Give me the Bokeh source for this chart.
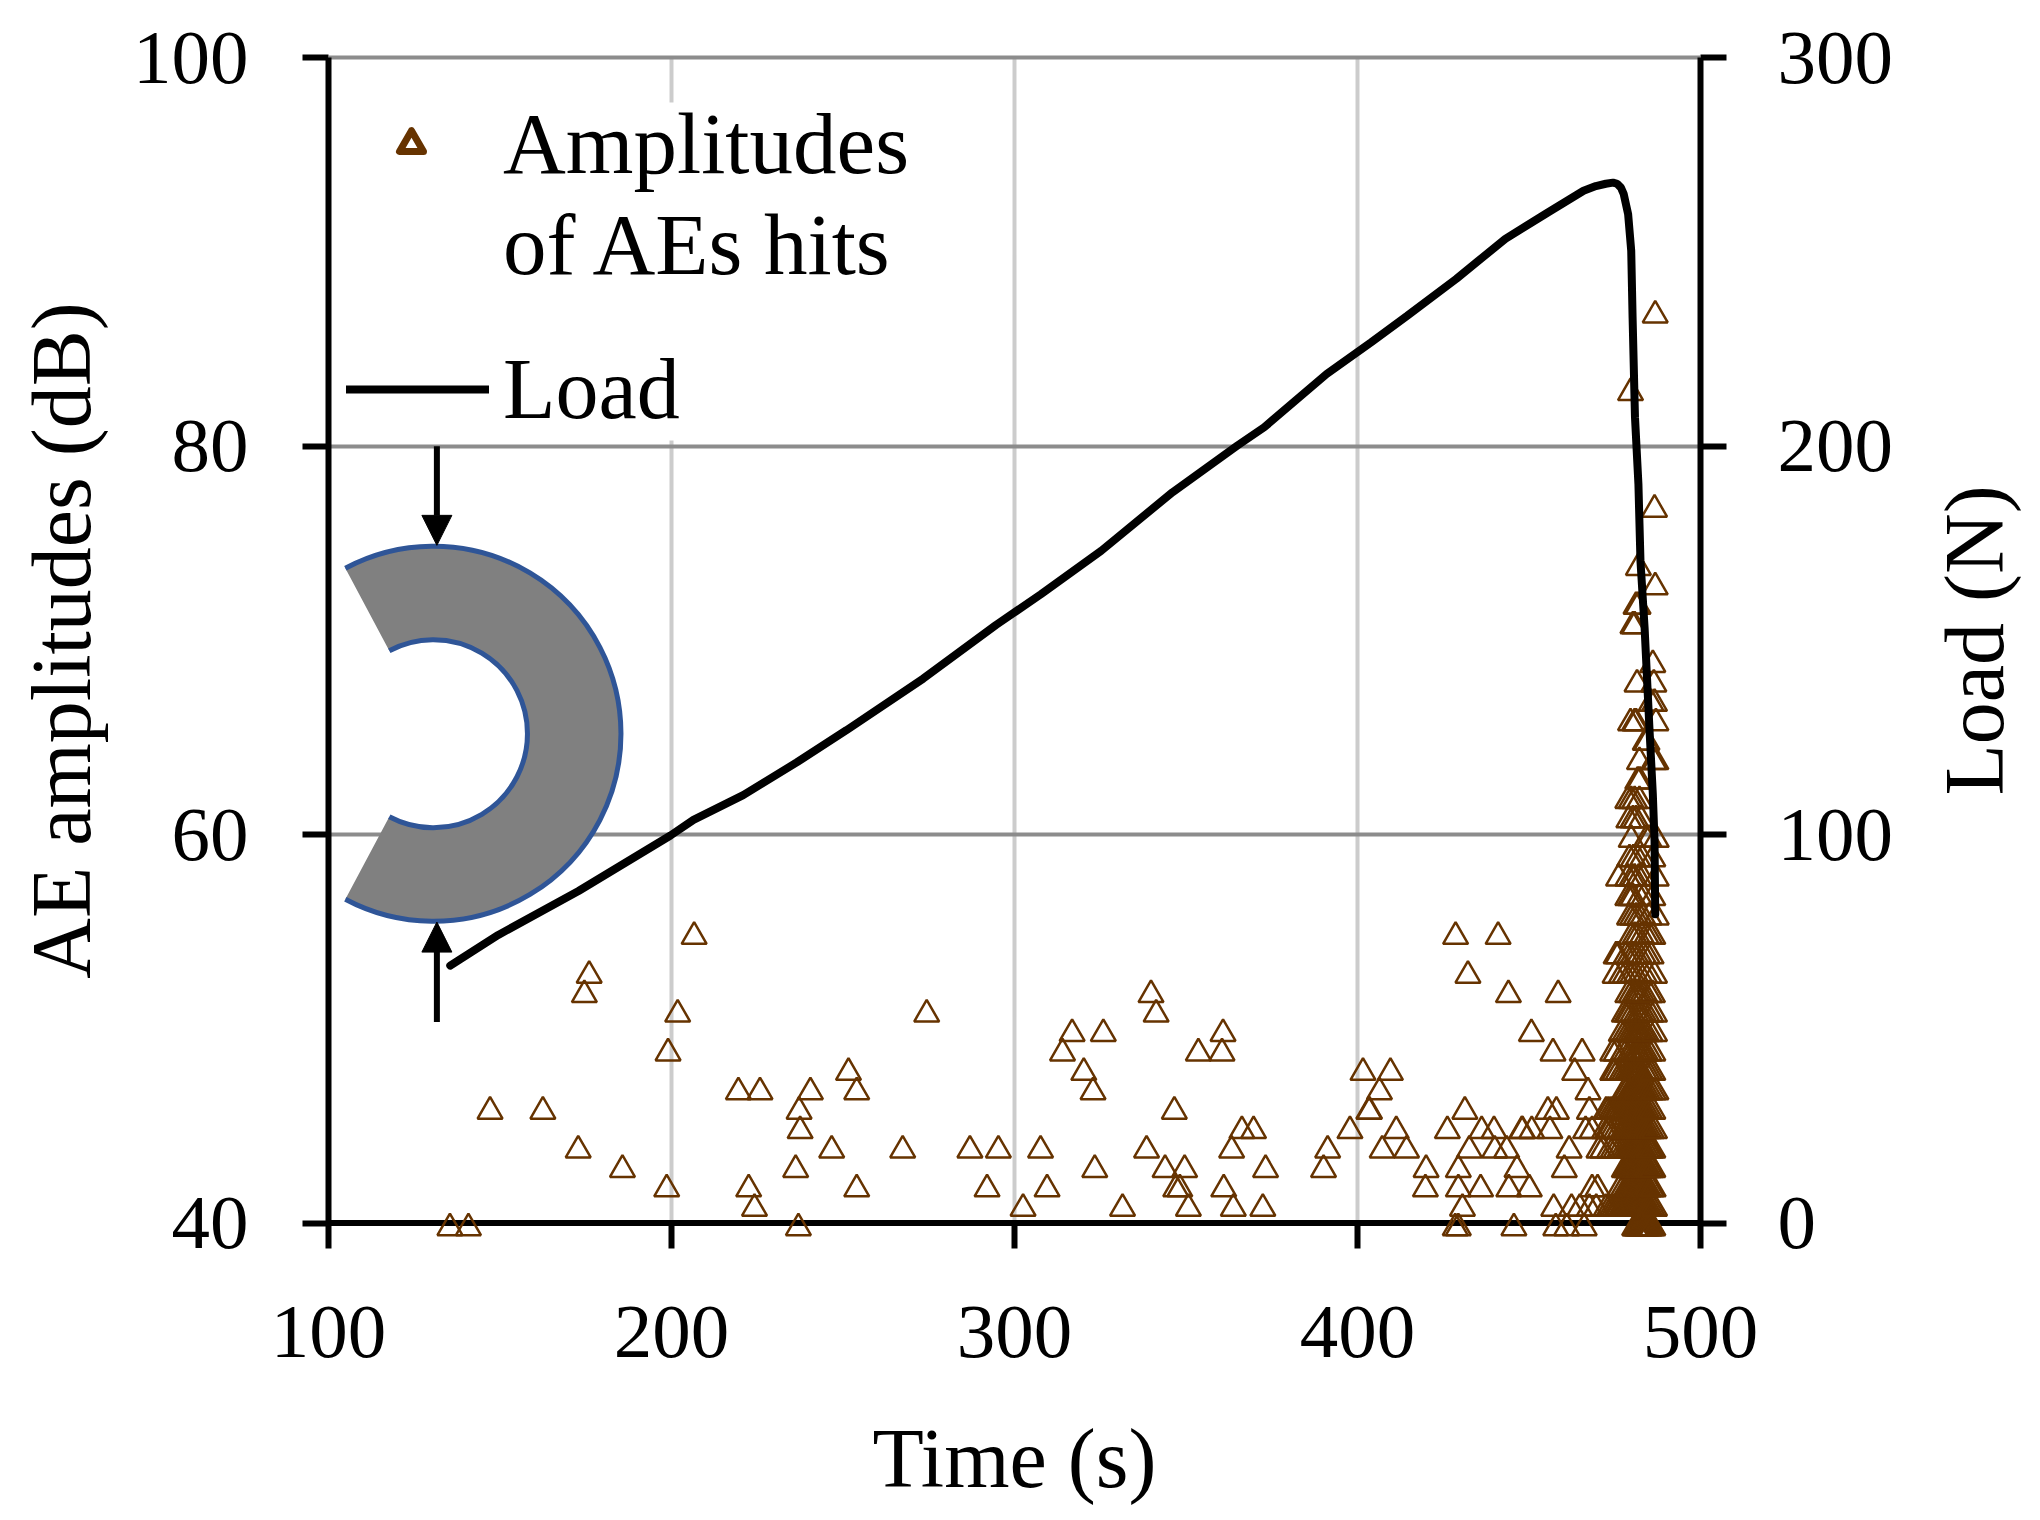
from bokeh.embed import file_html
from bokeh.resources import INLINE
from bokeh.layouts import row
from bokeh.models import (Arrow, NormalHead, Legend, LegendItem, LinearAxis, Range1d,
                          FixedTicker, ColumnDataSource, BoxAnnotation, Span)
from bokeh.plotting import figure

FONT = "Liberation Serif"
BROWN = "#663300"

# load curve
load_time = [135.5, 149.5, 172.9, 199.7, 206.4, 220.9, 236.5, 251.0, 273.4, 294.6, 307.7, 325.3,
             346.1, 365.0, 372.8, 391.0, 404.0, 414.5, 428.8, 435.3, 443.1, 455.5, 465.9, 469.5, 472.4,
             474.5, 475.7, 476.8, 477.6, 478.9, 479.8, 480.2, 480.9, 481.9, 482.5, 483.7, 485.1, 486.1, 486.6, 486.8]
load_n = [66.3, 74.2, 85.5, 99.8, 103.8, 110.2, 118.6, 126.9, 140.2, 154.0, 161.9, 173.1,
          188.2, 200.2, 204.9, 218.6, 226.8, 233.6, 243.1, 247.8, 253.4, 260.2, 265.8, 267.0, 267.6,
          267.9, 267.6, 266.6, 265.0, 259.8, 250.4, 233.2, 207.5, 190.3, 170.5, 153.3, 127.6, 110.4, 98.4, 79.5]

# scattered AE hits, before the final burst
sparse_time = [135.4, 140.8, 147.1, 162.5, 172.8, 176.0, 174.6, 185.7, 198.6, 199.0, 201.8, 206.6,
               219.5, 225.8, 222.5, 224.2, 237.0, 236.2, 237.5, 237.2, 240.5, 246.7, 251.6, 254.0,
               254.0, 267.4, 274.4, 287.0, 292.0, 295.3, 302.5, 307.6, 309.5, 314.0, 316.8, 320.2,
               322.9, 323.4, 325.9, 331.5, 338.5, 339.8, 341.3, 343.9, 346.6, 347.0, 348.2, 349.6,
               350.7, 353.6, 360.5, 360.8, 361.0, 363.3, 363.8, 366.3, 369.7, 372.4, 373.2, 390.1,
               391.3, 397.8, 401.6, 403.3, 403.5, 406.4, 409.6, 407.2, 411.3, 414.3, 419.8, 420.0,
               426.2, 428.6, 428.5, 429.4, 429.4, 429.4, 430.6, 432.2, 431.3, 432.6, 435.9, 436.2,
               439.8, 440.0, 441.0, 443.5, 444.0, 444.1, 445.6, 446.5, 447.9, 448.1, 450.1, 450.7,
               450.8, 455.5, 458.0, 456.1, 457.0, 457.2, 457.8, 458.5, 460.3, 461.0, 461.7, 462.4,
               463.3, 464.8, 465.5, 466.1, 466.5, 467.2, 467.6, 467.6, 468.4, 468.4, 470.0, 470.4]
sparse_db = [40, 40, 46, 46, 44, 53, 52, 43, 42, 49, 51, 55,
             47, 47, 42, 41, 40, 43, 45, 46, 47, 44, 48, 47,
             42, 44, 51, 44, 42, 44, 41, 44, 42, 49, 50, 48,
             47, 43, 50, 41, 44, 52, 51, 43, 46, 42, 42, 43,
             41, 49, 49, 50, 42, 44, 41, 45, 45, 41, 43, 43,
             44, 45, 48, 46, 46, 47, 48, 44, 45, 44, 42, 43,
             45, 55, 40, 40, 42, 43, 41, 53, 46, 44, 42, 45,
             45, 44, 55, 44, 52, 42, 40, 43, 45, 45, 42, 50,
             45, 46, 46, 45, 49, 41, 40, 52, 43, 40, 44, 41,
             48, 41, 49, 40, 45, 47, 46, 41, 45, 42, 42, 44]

# final burst, one list per dB level
burst_40 = [480.8, 481.1, 481.5, 481.8, 482.2, 482.5, 482.9, 483.2, 483.6, 483.9, 484.3, 484.7, 485.1, 485.6, 486.1]
burst_41 = [469.6, 472.5, 473.4, 474.2, 474.9, 475.6, 476.2, 476.9, 477.4, 477.9, 478.4, 478.8, 479.2, 479.6, 480.0,
            480.4, 480.8, 481.2, 481.6, 482.0, 482.4, 482.7, 483.1, 483.5, 483.9, 484.3, 484.6, 485.2, 485.9, 486.6]
burst_42 = [476.4, 477.4, 478.3, 478.8, 479.2, 479.6, 480.0, 480.3, 480.7, 481.1, 481.5, 481.9, 482.2, 482.6, 483.0,
            483.4, 483.8, 484.2, 484.8, 485.6, 486.2]
burst_43 = [477.8, 478.4, 478.9, 479.3, 479.8, 480.2, 480.6, 481.0, 481.3, 481.7, 482.1, 482.5, 482.9, 483.3, 483.7,
            484.2, 484.8, 485.5, 486.1]
burst_44 = [471.5, 473.5, 474.5, 475.4, 476.4, 477.4, 478.2, 478.9, 479.3, 479.8, 480.2, 480.6, 481.0, 481.4, 481.8,
            482.2, 482.6, 483.0, 483.5, 484.2, 484.9, 485.5, 486.1]
burst_45 = [472.0, 472.9, 473.5, 474.4, 475.4, 476.4, 477.4, 478.0, 478.7, 479.3, 479.8, 480.3, 480.7, 481.2, 481.7,
            482.1, 482.6, 483.1, 483.6, 484.2, 484.9, 485.7, 486.6]
burst_46 = [472.5, 473.2, 474.0, 474.7, 475.4, 476.0, 476.7, 477.4, 478.0, 478.7, 479.3, 479.8, 480.3, 480.7, 481.2,
            481.7, 482.2, 482.7, 483.2, 483.7, 484.4, 485.2, 486.1]
burst_47 = [477.8, 478.5, 479.3, 479.8, 480.3, 480.8, 481.2, 481.7, 482.2, 482.7, 483.2, 483.8, 484.5, 485.3, 486.2, 487.0]
burst_48 = [474.4, 475.0, 475.9, 477.0, 477.8, 478.6, 479.3, 479.8, 480.3, 480.8, 481.2, 481.7, 482.2, 482.7, 483.7, 484.5, 485.3, 486.1]
burst_49 = [474.4, 475.4, 477.4, 478.3, 479.3, 480.0, 480.8, 481.5, 482.0, 482.7, 483.3, 484.0, 485.0, 486.1]
burst_50 = [476.9, 477.9, 478.8, 479.6, 480.3, 481.0, 481.6, 482.2, 482.8, 483.5, 484.2, 485.3, 486.6]
burst_51 = [477.8, 478.6, 479.3, 480.2, 481.2, 482.0, 482.7, 483.5, 484.4, 485.5, 486.6]
burst_52 = [478.8, 479.8, 480.8, 481.5, 482.2, 483.0, 483.8, 485.1, 486.0]
burst_53 = [475.1, 476.9, 478.0, 479.3, 480.2, 481.2, 482.4, 483.7, 485.0, 486.6]
burst_54 = [475.4, 476.0, 478.3, 479.3, 480.3, 481.2, 482.2, 483.4, 484.5, 485.6]
burst_55 = [479.8, 480.8, 481.7, 482.9, 484.2, 485.2, 486.1]
burst_56 = [479.3, 480.2, 481.2, 482.2, 483.2, 485.0, 487.1]
burst_57 = [478.8, 479.6, 480.3, 482.2, 483.4, 486.1]
burst_58 = [476.1, 478.8, 480.0, 480.8, 482.0, 483.2, 487.1]
burst_59 = [479.3, 480.4, 481.7, 483.0, 486.1]
burst_60 = [479.8, 484.2, 485.0, 487.1]
burst_61 = [479.1, 480.3, 481.2, 482.7]
burst_62 = [478.8, 479.8, 480.8, 482.2]
burst_63 = [481.7, 482.3]
burst_64 = [482.2, 486.4, 487.0]
burst_65 = [483.9, 484.4]
burst_66 = [479.6, 480.8, 481.2, 487.0]
burst_67 = [485.6, 486.6]
burst_68 = [481.5, 486.4]
burst_69 = [486.1]
burst_71 = [480.3, 480.8]
burst_72 = [481.2, 481.8]
burst_73 = [486.8]
burst_74 = [481.9]
burst_77 = [486.6]
burst_83 = [479.6]
burst_87 = [486.8]

burst_rows = {40: burst_40, 41: burst_41, 42: burst_42, 43: burst_43, 44: burst_44, 45: burst_45,
              46: burst_46, 47: burst_47, 48: burst_48, 49: burst_49, 50: burst_50, 51: burst_51,
              52: burst_52, 53: burst_53, 54: burst_54, 55: burst_55, 56: burst_56, 57: burst_57,
              58: burst_58, 59: burst_59, 60: burst_60, 61: burst_61, 62: burst_62, 63: burst_63,
              64: burst_64, 65: burst_65, 66: burst_66, 67: burst_67, 68: burst_68, 69: burst_69,
              71: burst_71, 72: burst_72, 73: burst_73, 74: burst_74, 77: burst_77, 83: burst_83,
              87: burst_87}

hit_time = list(sparse_time)
hit_db = list(sparse_db)
for db, times in burst_rows.items():
    hit_time += times
    hit_db += [db] * len(times)

# the ranges run 1 dB past the axes so that triangles on the 40 dB line are not cut by the frame
p = figure(width=1920, height=1520, x_range=(100, 500), y_range=(39, 101),
           output_backend="svg", toolbar_location=None,
           min_border_left=328, min_border_right=220, min_border_top=38, min_border_bottom=278,
           x_axis_label="Time (s)", y_axis_label="AE amplitudes (dB)")
p.outline_line_color = None

p.extra_y_ranges = {"load": Range1d(-5, 305), "hits": Range1d(39.25, 101.25)}
p.add_layout(LinearAxis(y_range_name="load"), "right")

p.xaxis.ticker = FixedTicker(ticks=[100, 200, 300, 400, 500])
p.yaxis[0].ticker = FixedTicker(ticks=[40, 60, 80, 100])
p.yaxis[0].bounds = (40, 100)
p.yaxis[1].ticker = FixedTicker(ticks=[0, 100, 200, 300])
p.yaxis[1].bounds = (0, 300)

for ax in [p.xaxis[0], p.yaxis[0], p.yaxis[1]]:
    ax.axis_line_width = 6
    ax.axis_line_color = "#000000"
    ax.major_tick_line_width = 6
    ax.major_tick_line_color = "#000000"
    ax.major_tick_in = 0
    ax.major_tick_out = 26
    ax.minor_tick_line_color = None
    ax.major_label_text_font = FONT
    ax.major_label_text_font_size = "77px"
    ax.major_label_text_color = "#000000"
    ax.axis_label_text_font = FONT
    ax.axis_label_text_font_size = "84px"
    ax.axis_label_text_font_style = "normal"
    ax.axis_label_text_color = "#000000"
p.yaxis[0].major_label_standoff = 54
p.yaxis[0].axis_label_standoff = 22
p.yaxis[1].major_label_standoff = 51

# x axis sits at the frame bottom, its ticks pulled up to the 40 dB line drawn by the span
p.xaxis.axis_line_color = None
p.xaxis.major_tick_in = 20
p.xaxis.major_tick_out = 6
p.xaxis.major_label_standoff = 58
p.xaxis.axis_label_standoff = 52
p.add_layout(Span(location=40, dimension="width", line_color="#000000", line_width=6, level="underlay"))

p.xgrid.grid_line_color = "#cccccc"
p.xgrid.grid_line_width = 4
p.xgrid.cross_bounds = (40, 100)
p.ygrid.grid_line_color = "#8c8c8c"
p.ygrid.grid_line_width = 4
p.ygrid.cross_bounds = (100, 500)

# white patch behind the legend hides the gridlines there
p.add_layout(BoxAnnotation(left=105.3, right=281.5, top=97.7, bottom=80.3,
                           fill_color="#ffffff", fill_alpha=1, line_color=None))

# specimen sketch
p.annular_wedge(x=[130.6], y=[65.2], inner_radius=94, outer_radius=187.5,
                inner_radius_units="screen", outer_radius_units="screen",
                start_angle=-2.06, end_angle=2.06, fill_color="#808080", line_color=None)
p.arc(x=[130.6, 130.6], y=[65.2, 65.2], radius=[94, 187.5], radius_units="screen",
      start_angle=-2.06, end_angle=2.06, line_color="#2f5597", line_width=5)
p.add_layout(Arrow(end=NormalHead(size=30, fill_color="#000000", line_color="#000000"),
                   x_start=131.6, y_start=80, x_end=131.6, y_end=74.9,
                   line_width=6, line_color="#000000"))
p.add_layout(Arrow(end=NormalHead(size=30, fill_color="#000000", line_color="#000000"),
                   x_start=131.6, y_start=50.35, x_end=131.6, y_end=55.5,
                   line_width=6, line_color="#000000"))

source = ColumnDataSource(dict(t=hit_time, db=hit_db))
p.scatter("t", "db", source=source, y_range_name="hits", marker="triangle", size=25,
          fill_color=None, line_color=BROWN, line_width=2.5)
p.line(load_time, load_n, y_range_name="load", line_color="#000000", line_width=8, line_cap="round")

nan = float("nan")
key_hits = p.scatter([nan], [nan], marker="triangle", size=22, fill_color="#ffffff",
                     line_color=BROWN, line_width=7, line_join="round")
key_load = p.line([nan, nan], [nan, nan], line_color="#000000", line_width=8, line_cap="round")

legend_hits = Legend(items=[LegendItem(label="Amplitudes", renderers=[key_hits]),
                            LegendItem(label="of AEs hits", renderers=[])],
                     location=(18, 947), margin=0, padding=0, spacing=0,
                     glyph_width=130, glyph_height=60, label_standoff=27,
                     label_text_font=FONT, label_text_font_size="87px", label_text_color="#000000",
                     background_fill_alpha=0, border_line_color=None)
legend_load = Legend(items=[LegendItem(label="Load", renderers=[key_load])],
                     location=(18, 803), margin=0, padding=0,
                     glyph_width=143, glyph_height=60, label_standoff=14,
                     label_text_font=FONT, label_text_font_size="86px", label_text_color="#000000",
                     background_fill_alpha=0, border_line_color=None)
p.add_layout(legend_hits)
p.add_layout(legend_load)

# narrow strip beside the plot: its left axis carries the title of the right axis, reading upwards
strip = figure(width=110, height=1520, x_range=(0, 1), y_range=(39, 101), x_axis_location=None,
               output_backend="svg", toolbar_location=None,
               min_border_left=100, min_border_right=2, min_border_top=38, min_border_bottom=278,
               y_axis_label="Load (N)")
strip.outline_line_color = None
strip.grid.visible = False
strip.yaxis.ticker = FixedTicker(ticks=[70])
strip.yaxis.axis_line_color = None
strip.yaxis.major_tick_line_color = None
strip.yaxis.minor_tick_line_color = None
strip.yaxis.major_tick_in = 0
strip.yaxis.major_tick_out = 0
strip.yaxis.major_label_text_color = None
strip.yaxis.major_label_text_font_size = "1px"
strip.yaxis.major_label_standoff = 0
strip.yaxis.axis_label_standoff = 0
strip.yaxis.axis_label_text_font = FONT
strip.yaxis.axis_label_text_font_size = "84px"
strip.yaxis.axis_label_text_font_style = "normal"
strip.yaxis.axis_label_text_color = "#000000"

page = row(p, strip, spacing=0)
open("out.html", "w").write(file_html(page, INLINE))
